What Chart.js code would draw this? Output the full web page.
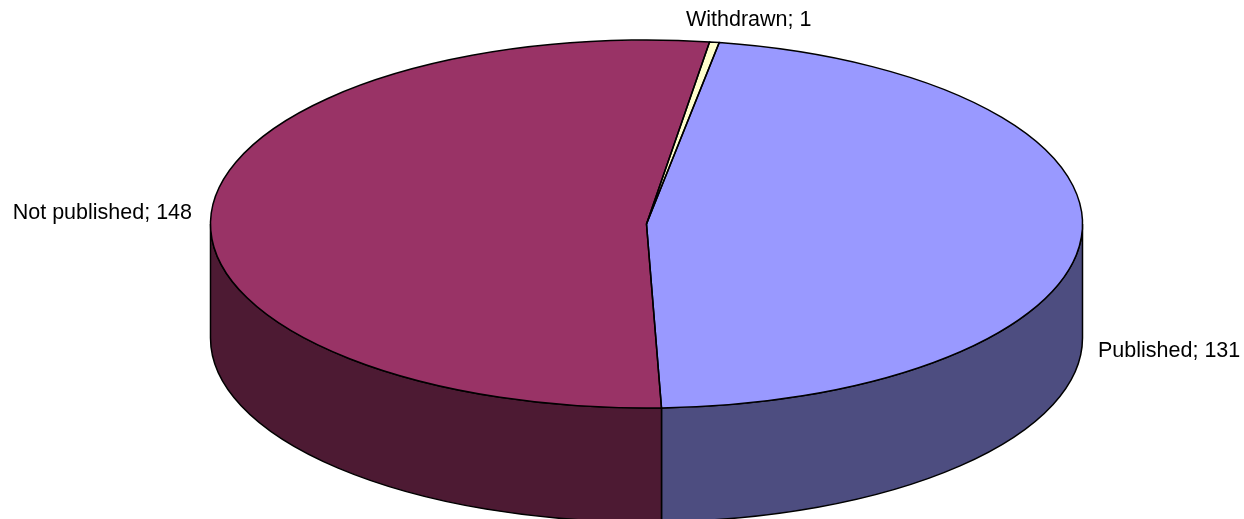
<!DOCTYPE html>
<html><head><meta charset="utf-8">
<script src="https://cdn.jsdelivr.net/npm/chart.js@4"></script>
<style>html,body{margin:0;padding:0;background:#fff;overflow:hidden}#w{width:1244px;height:519px}canvas{display:block}</style>
</head><body><div id="w"><canvas id="c" width="1244" height="519"></canvas></div>
<script>
const categories = ['Published', 'Not published', 'Withdrawn'];
const values = [131, 148, 1];
const topColors = ['#9999FF', '#993366', '#FFFFCC'];
const sideColors = ['#4D4D80', '#4D1A33', '#808066'];
const labelAnchors = [[1098, 351, 'left'], [192, 213, 'right'], [686, 20, 'left']];

const SQUASH = 184 / 436, DEPTH = 114;

const pie3d = {
  id: 'pie3d',
  beforeDatasetsDraw(chart) {
    const ctx = chart.ctx;
    const arcs = chart.getDatasetMeta(0).data;
    ctx.save();
    arcs.forEach((arc, i) => {
      const {x, y, outerRadius: rx, startAngle, endAngle} = arc.getProps(['x','y','outerRadius','startAngle','endAngle'], true);
      const ry = rx * SQUASH;
      for (const shift of [0, -2 * Math.PI]) {
        const a0 = Math.max(startAngle + shift, 0);
        const a1 = Math.min(endAngle + shift, Math.PI);
        if (a1 <= a0) continue;
        ctx.beginPath();
        ctx.ellipse(x, y, rx, ry, 0, a0, a1, false);
        ctx.lineTo(x + rx * Math.cos(a1), y + ry * Math.sin(a1) + DEPTH);
        ctx.ellipse(x, y + DEPTH, rx, ry, 0, a1, a0, true);
        ctx.closePath();
        ctx.fillStyle = sideColors[i];
        ctx.fill();
        ctx.strokeStyle = '#000';
        ctx.lineWidth = 1.5;
        ctx.stroke();
      }
    });
    ctx.restore();
    ctx.save();
    const c = arcs[0];
    ctx.translate(c.x, c.y);
    ctx.scale(1, SQUASH);
    ctx.translate(-c.x, -c.y);
  },
  afterDatasetsDraw(chart) {
    const ctx = chart.ctx;
    ctx.restore();
    const arcs = chart.getDatasetMeta(0).data;
    ctx.save();
    ctx.strokeStyle = '#000';
    ctx.lineWidth = 1.5;
    arcs.forEach(arc => {
      const {x, y, outerRadius: rx, startAngle, endAngle} = arc.getProps(['x','y','outerRadius','startAngle','endAngle'], true);
      const ry = rx * SQUASH;
      ctx.beginPath();
      ctx.moveTo(x, y);
      ctx.ellipse(x, y, rx, ry, 0, startAngle, endAngle, false);
      ctx.closePath();
      ctx.stroke();
    });
    ctx.fillStyle = '#000';
    ctx.font = '21.5px "Liberation Sans"';
    ctx.textBaseline = 'middle';
    categories.forEach((name, i) => {
      ctx.textAlign = labelAnchors[i][2];
      ctx.fillText(name + '; ' + values[i], labelAnchors[i][0], labelAnchors[i][1]);
    });
    ctx.restore();
  }
};

new Chart(document.getElementById('c'), {
  type: 'pie',
  data: { labels: categories, datasets: [{ data: values, backgroundColor: topColors, borderWidth: 0, clip: false }] },
  options: {
    responsive: false,
    animation: false,
    rotation: 9.6,
    radius: 436,
    layout: { padding: { left: 49, right: 0, top: 0, bottom: 71 } },
    plugins: { legend: { display: false }, tooltip: { enabled: false } }
  },
  plugins: [pie3d]
});
</script></body></html>
